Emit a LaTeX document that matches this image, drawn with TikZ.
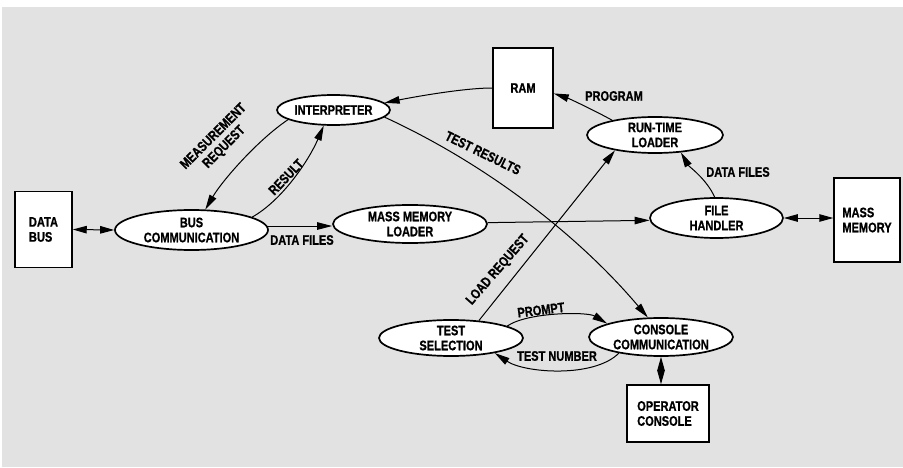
\documentclass[tikz,border=0pt]{standalone}
\usepackage{fontspec}
\newfontfamily\labfont{Liberation Sans}[FakeStretch=0.8, FakeBold=0.8]
\usetikzlibrary{shapes.geometric,arrows.meta}
\definecolor{bggray}{RGB}{226,226,226}
\newcommand{\dfont}{\labfont\bfseries\fontsize{13.8}{15}\selectfont}
\tikzset{
  proc/.style={ellipse, draw, line width=1.7pt, fill=white, inner sep=0pt, font=\dfont, align=center},
  ext/.style={rectangle, draw, line width=1.5pt, fill=white, inner sep=0pt, font=\dfont, align=left},
  flow/.style={line width=1pt, -{Triangle[length=15pt,width=7.5pt]}},
  bflow/.style={line width=1pt, {Triangle[length=14pt,width=7.5pt]}-{Triangle[length=14pt,width=7.5pt]}},
  lbl/.style={font=\dfont, inner sep=0pt, align=center},
}
\begin{document}
\begin{tikzpicture}[x=1pt,y=1pt]
\useasboundingbox (0,0) rectangle (903,467);
\fill[white] (0,0) rectangle (903,467);
\fill[bggray] (2,0) rectangle (903,460);

% nodes
\node[ext, minimum width=57pt, minimum height=76pt] (db) at (43.5,237.5) {DATA\\BUS};
\node[proc, minimum width=153pt, minimum height=40pt] (bus) at (191.5,237) {BUS\\COMMUNICATION};
\node[proc, minimum width=113pt, minimum height=30pt] (int) at (333.5,357) {INTERPRETER};
\node[proc, minimum width=154pt, minimum height=38pt] (mml) at (410,243) {MASS MEMORY\\LOADER};
\node[ext, minimum width=60pt, minimum height=80pt] (ram) at (523,379) {RAM};
\node[proc, minimum width=136pt, minimum height=36pt] (rtl) at (655,332) {RUN-TIME\\LOADER};
\node[proc, minimum width=133pt, minimum height=40pt] (fh) at (716.5,249) {FILE\\HANDLER};
\node[ext, minimum width=66pt, minimum height=84pt] (mm) at (867,247) {MASS\\MEMORY};
\node[proc, minimum width=144pt, minimum height=36pt] (ts) at (451,129) {TEST\\SELECTION};
\node[proc, minimum width=144pt, minimum height=38pt] (cc) at (661,130) {CONSOLE\\COMMUNICATION};
\node[ext, minimum width=82pt, minimum height=57pt] (opc) at (668,53.5) {OPERATOR\\CONSOLE};

% connectors
\draw[bflow] (db.east) -- (bus.west);
\draw[flow] (int.192) .. controls +(-30,-20) and +(17,29) .. (bus.56);
\draw[flow] (bus.12) .. controls +(30,17) and +(-15,-35) .. (int.238);
\draw[flow] (ram.west) .. controls +(-30,0) and +(25,5) .. (int.8);
\draw[flow] (int.352) .. controls +(100,-46) and +(-71,84) .. (cc.124);
\draw[flow] (rtl.161) .. controls +(-18,10) and +(15,-5) .. (ram.350);
\draw[flow] (fh.95) .. controls +(-8,18) and +(8,-14) .. (rtl.326);
\draw[bflow] (fh.east) -- (mm.west |- fh.east);
\draw[flow] (bus.3) -- (mml.west |- bus.3);
\draw[flow] (mml.1) -- (fh.182);
\draw[flow] (ts.32) -- (rtl.201);
\draw[flow] (ts.12) .. controls +(20,14) and +(-20,12) .. (cc.166);
\draw[flow] (cc.201) .. controls +(-25,-25) and +(30,-20) .. (ts.341);
\draw[bflow] (cc.south) -- (cc.south |- opc.north);

% labels
\node[lbl, rotate=45] (lmr) at (219,325) {MEASUREMENT\\REQUEST};
\node[lbl, rotate=46] (lres) at (286,290) {RESULT};
\node[lbl, rotate=-26] (ltr) at (483,314) {TEST RESULTS};
\node[lbl] (lprog) at (614,371) {PROGRAM};
\node[lbl] (ldf1) at (738,295) {DATA FILES};
\node[lbl] (ldf2) at (302,227) {DATA FILES};
\node[lbl, rotate=49] (llr) at (498,197) {LOAD REQUEST};
\node[lbl, rotate=7] (lpr) at (541,157) {PROMPT};
\node[lbl] (ltn) at (557,111) {TEST NUMBER};
\end{tikzpicture}
\end{document}
